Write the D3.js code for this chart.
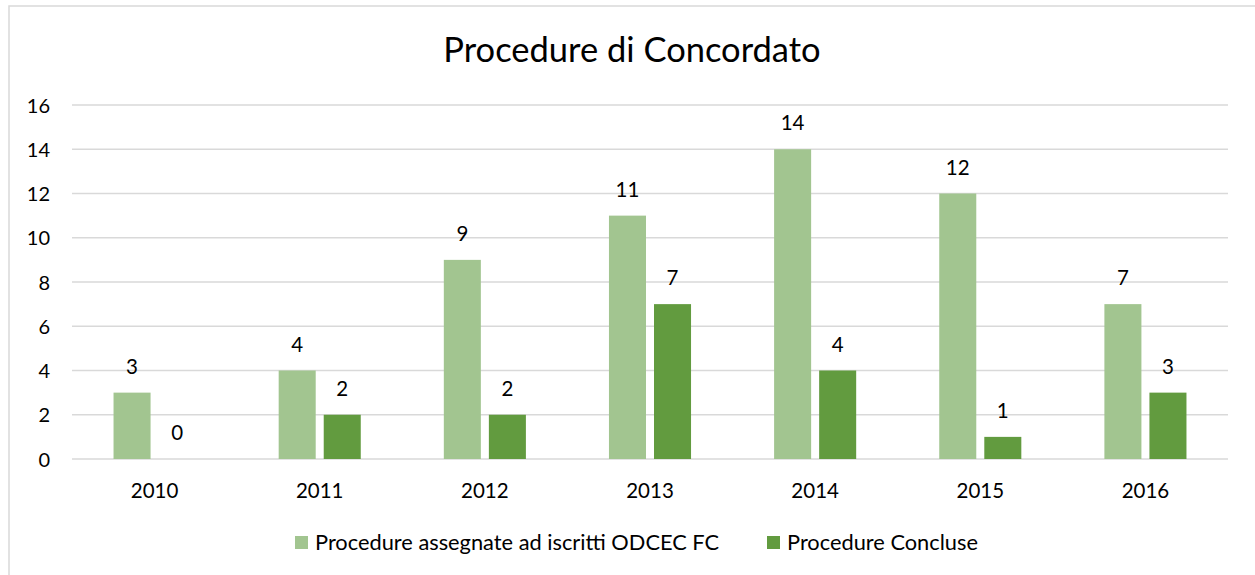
<!DOCTYPE html>
<html><head><meta charset="utf-8">
<script src="https://cdn.jsdelivr.net/npm/d3@7/dist/d3.min.js"></script>
<style>body{margin:0;background:#fff;}svg{display:block;font-family:Lato,"Open Sans",sans-serif;}</style>
</head><body>
<script>
const categories = ["2010","2011","2012","2013","2014","2015","2016"];
const assegnate = [3,4,9,11,14,12,7];
const concluse = [0,2,2,7,4,1,3];
const seriesNames = ["Procedure assegnate ad iscritti ODCEC FC","Procedure Concluse"];
const yTicks = [0,2,4,6,8,10,12,14,16];
const colors = ["#a2c590","#629b3f"];

const W=1255,H=575;
const svg=d3.select("body").append("svg").attr("width",W).attr("height",H);
svg.append("rect").attr("x",9).attr("y",6).attr("width",W+5).attr("height",H+5)
  .attr("fill","#fff").attr("stroke","#d9d9d9").attr("stroke-width",1.5);

const m={l:72,r:1228,t:105,b:459};
const x=d3.scaleBand().domain(categories).range([m.l,m.r]).paddingInner(0).paddingOuter(0);
const x1=d3.scaleBand().domain([0,1]).range([0,x.bandwidth()]).paddingInner(0.178).paddingOuter(0.922);
const y=d3.scaleLinear().domain([0,16]).range([m.b,m.t]);

svg.append("text").attr("x",632).attr("y",62).attr("text-anchor","middle")
  .attr("font-size",34.5).attr("fill","#000").text("Procedure di Concordato");

const grid=svg.append("g");
grid.selectAll("line").data(yTicks).join("line")
  .attr("x1",m.l).attr("x2",m.r).attr("y1",d=>y(d)).attr("y2",d=>y(d))
  .attr("stroke","#d9d9d9").attr("stroke-width",1.5);

const yAxis=svg.append("g").attr("transform",`translate(${m.l-22},0)`)
  .call(d3.axisLeft(y).tickValues(yTicks).tickSize(0).tickPadding(0));
yAxis.select(".domain").remove();
yAxis.selectAll("text").attr("font-size",20).attr("font-family","Lato").attr("fill","#000").attr("dy","0.36em");

const xAxis=svg.append("g").attr("transform",`translate(0,${m.b})`)
  .call(d3.axisBottom(x).tickSize(0).tickPadding(24.5));
xAxis.select(".domain").remove();
xAxis.selectAll("text").attr("font-size",20.5).attr("font-family","Lato").attr("fill","#000");

const data=categories.map((c,i)=>({c,v:[assegnate[i],concluse[i]]}));
const g=svg.append("g");
data.forEach(d=>{
  d.v.forEach((v,j)=>{
    const bx=x(d.c)+x1(j);
    g.append("rect").attr("x",bx).attr("y",y(v)).attr("width",x1.bandwidth()).attr("height",y(0)-y(v))
      .attr("fill",colors[j]);
    g.append("text").attr("x",bx+x1.bandwidth()/2).attr("y",y(v)-19).attr("text-anchor","middle")
      .attr("font-size",20.5).attr("fill","#000").text(v);
  });
});

const leg=svg.append("g");
const legX=[295,767];
seriesNames.forEach((n,i)=>{
  leg.append("rect").attr("x",legX[i]).attr("y",536).attr("width",13).attr("height",13).attr("fill",colors[i]);
  leg.append("text").attr("x",legX[i]+20).attr("y",550).attr("font-size",21.8).attr("fill","#000").text(n);
});
</script>
</body></html>
